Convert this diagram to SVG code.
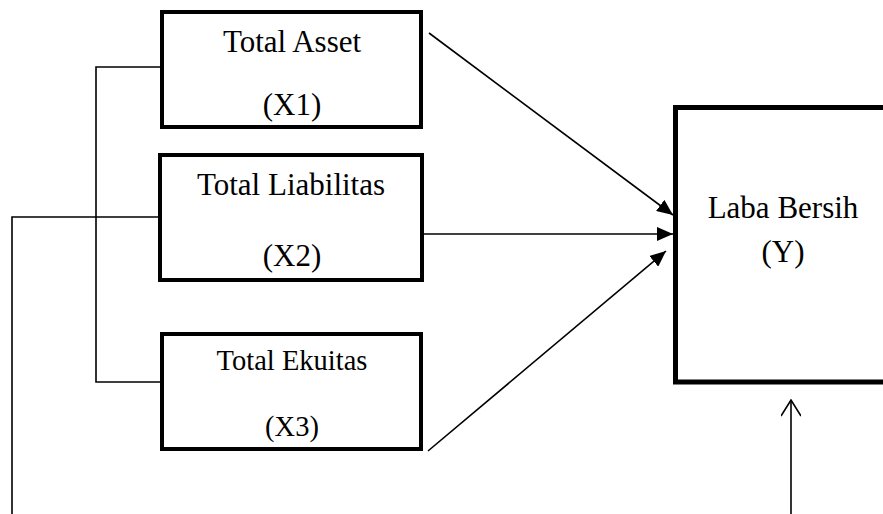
<svg xmlns="http://www.w3.org/2000/svg" width="883" height="514" viewBox="0 0 883 514">
<style>
.box{fill:#fff;stroke:#000;stroke-width:4}
.big{fill:#fff;stroke:#000;stroke-width:5}
.t{font-family:"Liberation Serif","Times New Roman",serif;font-size:31px;fill:#000;text-anchor:middle}
.t3{font-size:28.5px}
.c{fill:none;stroke:#000;stroke-width:1.6}
</style>
<defs>
<marker id="ah" viewBox="0 0 16 14" refX="16" refY="7" markerWidth="16" markerHeight="14" markerUnits="userSpaceOnUse" orient="auto">
<path d="M0,0 L16,7 L0,14 Z" fill="#000"/>
</marker>
<marker id="oh" viewBox="0 0 20 18" refX="10" refY="1" markerWidth="20" markerHeight="18" markerUnits="userSpaceOnUse" orient="0">
<path d="M0,17 L10,1 L20,17" fill="none" stroke="#000" stroke-width="1.6"/>
</marker>
</defs>
<g id="connectors">
<polyline class="c" points="162,67 96,67 96,382 162,382"/>
<polyline class="c" points="160,217 12,217 12,514"/>
<line class="c" x1="429" y1="33" x2="673" y2="215" marker-end="url(#ah)"/>
<line class="c" x1="424" y1="234" x2="673" y2="234" marker-end="url(#ah)"/>
<line class="c" x1="428" y1="451" x2="666" y2="251" marker-end="url(#ah)"/>
<line class="c" x1="791" y1="514" x2="791" y2="400" marker-end="url(#oh)"/>
</g>
<g id="x1">
<rect class="box" x="162" y="12" width="259" height="115"/>
<text class="t" x="292" y="52">Total Asset</text>
<text class="t" x="292" y="115">(X1)</text>
</g>
<g id="x2">
<rect class="box" x="160" y="155" width="262" height="125"/>
<text class="t" x="291" y="195">Total Liabilitas</text>
<text class="t" x="292" y="266">(X2)</text>
</g>
<g id="x3">
<rect class="box" x="162" y="334" width="259" height="115"/>
<text class="t t3" x="292" y="370">Total Ekuitas</text>
<text class="t t3" x="292" y="436">(X3)</text>
</g>
<g id="y">
<rect class="big" x="675.5" y="107.5" width="300" height="274.5"/>
<text class="t" x="783" y="218">Laba Bersih</text>
<text class="t" x="783" y="262">(Y)</text>
</g>
</svg>
